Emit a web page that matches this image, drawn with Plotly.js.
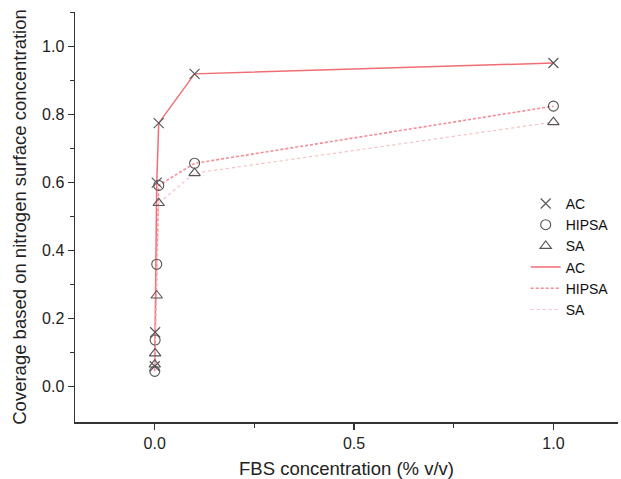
<!DOCTYPE html>
<html>
<head>
<meta charset="utf-8">
<script src="https://cdn.plot.ly/plotly-3.0.1.min.js"></script>
<style>html,body{margin:0;padding:0;background:#fff;}#chart{width:621px;height:479px;}</style>
</head>
<body>
<div id="chart"></div>
<script>
// FBS concentration (% v/v)
var fbs = [0.0001, 0.001, 0.005, 0.01, 0.1, 1.0];
var acY = [0.06, 0.16, 0.60, 0.775, 0.92, 0.952];
var hipsaY = [0.045, 0.137, 0.36, 0.592, 0.657, 0.825];
var saY = [0.065, 0.098, 0.268, 0.54, 0.628, 0.778];
var seriesNames = ["AC", "HIPSA", "SA"];
var xTickVals = [0, 0.5, 1.0];
var xTickText = ["0.0", "0.5", "1.0"];
var yTickVals = [0, 0.2, 0.4, 0.6, 0.8, 1.0];
var yTickText = ["0.0", "0.2", "0.4", "0.6", "0.8", "1.0"];
var xTitle = "FBS concentration (% v/v)";
var yTitle = "Coverage based on nitrogen surface concentration";

var markerColor = "#555555";
var lineColors = ["rgb(240,110,115)", "rgb(245,140,150)", "rgb(250,190,195)"];
var symbols = ["x-thin-open", "circle-open", "triangle-up-open"];
var dashes = ["solid", "3px,2px", "dot"];
var widths = [1.5, 1.6, 1.2];
var ys = [acY, hipsaY, saY];

var lineTraces = [], markerTraces = [];
for (var i = 0; i < 3; i++) {
  markerTraces.push({
    x: fbs, y: ys[i], name: seriesNames[i], mode: "markers", type: "scatter",
    marker: {symbol: symbols[i], size: 10, color: markerColor,
             line: {color: markerColor, width: 1.1}},
    legendrank: i + 1, cliponaxis: false
  });
  lineTraces.push({
    x: fbs, y: ys[i], name: seriesNames[i], mode: "lines", type: "scatter",
    line: {color: lineColors[i], width: widths[i], dash: dashes[i]},
    legendrank: i + 4
  });
}

var layout = {
  width: 621, height: 479,
  margin: {l: 75, r: 3, t: 12, b: 57},
  paper_bgcolor: "#ffffff", plot_bgcolor: "#ffffff",
  font: {family: "Liberation Sans, Arial, sans-serif", size: 16, color: "#222"},
  showlegend: true,
  legend: {x: 0.83, y: 0.571, xanchor: "left", yanchor: "top", bgcolor: "rgba(0,0,0,0)",
           font: {size: 14, color: "#111"}, tracegroupgap: 0, itemwidth: 30},
  xaxis: {
    range: [-0.2, 1.162], showgrid: false, zeroline: false,
    showline: true, linecolor: "#333", linewidth: 1.5,
    ticks: "outside", ticklen: 6, tickwidth: 1.5, tickcolor: "#333",
    tickvals: xTickVals, ticktext: xTickText,
    minor: {tickvals: [0.25, 0.75], ticks: "outside", ticklen: 4, tickwidth: 1.5, tickcolor: "#333", showgrid: false},
    tickfont: {size: 16, color: "#222"},
    title: {text: xTitle, font: {size: 18.5, color: "#222"}, standoff: 13}
  },
  yaxis: {
    range: [-0.104, 1.102], showgrid: false, zeroline: false,
    showline: true, linecolor: "#333", linewidth: 1.5,
    ticks: "outside", ticklen: 6, tickwidth: 1.5, tickcolor: "#333",
    tickvals: yTickVals, ticktext: yTickText,
    minor: {tickvals: [0.1, 0.3, 0.5, 0.7, 0.9, 1.1], ticks: "outside", ticklen: 4, tickwidth: 1.5, tickcolor: "#333", showgrid: false},
    tickfont: {size: 16, color: "#222"},
    title: {text: yTitle, font: {size: 18.5, color: "#222"}, standoff: 10}
  }
};

Plotly.newPlot("chart", lineTraces.concat(markerTraces), layout, {displayModeBar: false, staticPlot: true});
</script>
</body>
</html>
